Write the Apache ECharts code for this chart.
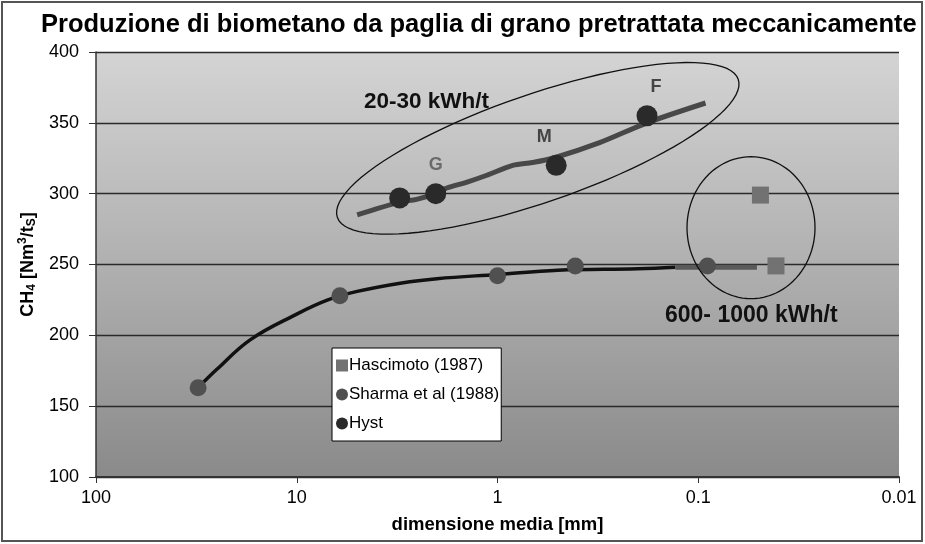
<!DOCTYPE html>
<html>
<head>
<meta charset="utf-8">
<script src="https://cdn.jsdelivr.net/npm/echarts@6/dist/echarts.min.js"></script>
<style>
  html, body { margin: 0; padding: 0; background: #fff; }
  #chart { width: 925px; height: 544px; }
</style>
</head>
<body>
<div id="chart"></div>
<script>
// tick labels of the log x axis (inverted: 100 on the left)
const xTicks = [100, 10, 1, 0.1, 0.01];
const yTicks = [100, 150, 200, 250, 300, 350, 400];

// measured points
const hascimotoX = [0.049, 0.041];
const hascimotoY = [299, 249];
const sharmaX = [31, 6.1, 1.0, 0.41, 0.09];
const sharmaY = [163, 228, 242, 249, 249];
const hystX = [3.07, 2.03, 0.51, 0.18];
const hystY = [297, 300, 320, 355];
const hystTags = ['', 'G', 'M', 'F'];

// trend lines
const hystFitX = [5.0, 3.07, 2.53, 2.03, 1.79, 1.43, 1.13, 0.84, 0.67, 0.53, 0.31, 0.18, 0.092];
const hystFitY = [285, 294, 296, 300, 304, 308, 313, 320, 322, 325, 336, 350, 364];
const sharmaFitX = [31, 25, 17, 10, 7, 5, 3, 2, 1, 0.5, 0.2, 0.13];
const sharmaFitY = [163, 176, 197, 215, 225, 231, 237, 240, 243, 246, 247, 248];
const tailFitX = [0.13, 0.09, 0.051];
const tailFitY = [248, 248, 248];

const zip = (xs, ys) => xs.map((x, i) => [x, ys[i]]);
const FONT = 'Liberation Sans, Arial, sans-serif';

const chart = echarts.init(document.getElementById('chart'));

const option = {
    backgroundColor: '#fff',
    animation: false,
    textStyle: { fontFamily: FONT },
    title: {
        text: 'Produzione di biometano da paglia di grano pretrattata meccanicamente',
        left: 36,
        top: 7,
        textStyle: { fontSize: 25.5, fontWeight: 'bold', color: '#000' }
    },
    grid: {
        left: 96, right: 26, top: 52, bottom: 67,
        show: true,
        borderWidth: 0,
        backgroundColor: new echarts.graphic.LinearGradient(0, 0, 0, 1, [
            { offset: 0, color: '#d4d4d4' },
            { offset: 0.5, color: '#b0b0b0' },
            { offset: 1, color: '#8a8a8a' }
        ])
    },
    legend: {
        orient: 'vertical',
        left: 332,
        top: 348,
        data: ['Hascimoto (1987)', 'Sharma et al (1988)', 'Hyst'],
        backgroundColor: '#fff',
        borderColor: '#000',
        borderWidth: 1,
        borderRadius: 0,
        padding: [9, 2, 9, 4],
        itemGap: 12,
        itemWidth: 12,
        itemHeight: 12,
        textStyle: { fontSize: 17, color: '#000', padding: [0, 0, 0, -4] }
    },
    xAxis: {
        type: 'log',
        logBase: 10,
        inverse: true,
        min: 0.01,
        max: 100,
        name: 'dimensione media [mm]',
        nameLocation: 'middle',
        nameGap: 38,
        nameTextStyle: { fontSize: 18.5, fontWeight: 'bold', color: '#000' },
        axisLine: { onZero: false, lineStyle: { color: '#333', width: 2 } },
        axisTick: { show: true, length: 6, lineStyle: { color: '#333' } },
        minorTick: { show: false },
        splitLine: { show: false },
        axisLabel: {
            fontSize: 18,
            color: '#000',
            margin: 12,
            formatter: (v) => {
                const t = xTicks.find(k => Math.abs(Math.log10(k) - Math.log10(v)) < 1e-6);
                return t === undefined ? '' : String(t);
            }
        }
    },
    yAxis: {
        type: 'value',
        min: yTicks[0],
        max: yTicks[yTicks.length - 1],
        interval: 50,
        name: '{b|CH}{s|4}{b| [Nm}{p|3}{b|/t}{s|S}{b|]}',
        nameLocation: 'middle',
        nameGap: 55,
        nameRotate: 90,
        nameTextStyle: {
            rich: {
                b: { fontSize: 18, fontWeight: 'bold', color: '#000' },
                s: { fontSize: 12, fontWeight: 'bold', color: '#000', padding: [9, 0, 0, 0] },
                p: { fontSize: 12, fontWeight: 'bold', color: '#000', padding: [0, 0, 9, 0] }
            }
        },
        axisLine: { show: true, lineStyle: { color: '#333', width: 1.5 } },
        axisTick: { show: true, length: 7, lineStyle: { color: '#333' } },
        splitLine: { lineStyle: { color: '#2a2a2a', width: 1.3 } },
        axisLabel: { fontSize: 18, color: '#000', margin: 17 }
    },
    series: [
        {
            name: 'sharma fit',
            type: 'line',
            data: zip(sharmaFitX, sharmaFitY),
            smooth: 0.4,
            showSymbol: false,
            silent: true,
            lineStyle: { color: '#111', width: 3.5 },
            z: 2
        },
        {
            name: 'tail fit',
            type: 'line',
            data: zip(tailFitX, tailFitY),
            showSymbol: false,
            silent: true,
            lineStyle: { color: '#5a5a5a', width: 5 },
            z: 2
        },
        {
            name: 'hyst fit',
            type: 'line',
            data: zip(hystFitX, hystFitY),
            smooth: 0.3,
            showSymbol: false,
            silent: true,
            lineStyle: { color: '#484848', width: 5 },
            z: 2
        },
        {
            name: 'Hascimoto (1987)',
            type: 'scatter',
            symbol: 'rect',
            symbolSize: 17,
            data: zip(hascimotoX, hascimotoY),
            itemStyle: { color: '#727272', opacity: 1 },
            z: 3
        },
        {
            name: 'Sharma et al (1988)',
            type: 'scatter',
            symbol: 'circle',
            symbolSize: 17,
            data: zip(sharmaX, sharmaY),
            itemStyle: { color: '#505050', opacity: 1 },
            z: 3
        },
        {
            name: 'Hyst',
            type: 'scatter',
            symbol: 'circle',
            symbolSize: 21,
            data: hystX.map((x, i) => ({
                value: [x, hystY[i]],
                label: {
                    show: hystTags[i] !== '',
                    formatter: hystTags[i],
                    position: 'top',
                    distance: 9,
                    offset: i === 2 ? [-12, 0] : (i === 3 ? [9, 0] : [0, 0]),
                    fontSize: 18,
                    fontWeight: 'bold',
                    color: i === 1 ? '#6a6a6a' : '#444'
                }
            })),
            itemStyle: { color: '#2a2a2a', opacity: 1 },
            z: 4
        }
    ]
};

chart.setOption(option);

// annotations: ellipses and energy notes, placed from data coordinates
function ellipsePoints(cx, cy, a, b, rot) {
    const pts = [];
    for (let k = 0; k < 96; k++) {
        const t = (k / 96) * Math.PI * 2;
        const ca = Math.cos(t), sa = Math.sin(t);
        pts.push([
            cx + a * ca * Math.cos(rot) - b * sa * Math.sin(rot),
            cy + a * ca * Math.sin(rot) + b * sa * Math.cos(rot)
        ]);
    }
    return pts;
}

const c1 = chart.convertToPixel({ gridIndex: 0 }, [0.63, 332]);
const c2 = chart.convertToPixel({ gridIndex: 0 }, [0.0546, 276]);

chart.setOption({
    graphic: [
        {
            type: 'rect',
            shape: { x: 2, y: 2, width: 920, height: 539 },
            style: { fill: 'none', stroke: '#555', lineWidth: 2 },
            z: 100
        },
        {
            type: 'polygon',
            shape: { points: ellipsePoints(c1[0], c1[1], 212, 54, -19 * Math.PI / 180) },
            style: { fill: 'none', stroke: '#111', lineWidth: 1.3 },
            z: 50
        },
        {
            type: 'polygon',
            shape: { points: ellipsePoints(c2[0], c2[1], 64, 71, 0) },
            style: { fill: 'none', stroke: '#111', lineWidth: 1.3 },
            z: 50
        },
        {
            type: 'text',
            x: 364,
            y: 102,
            style: { text: '20-30 kWh/t', fontSize: 22.5, fontWeight: 'bold', fill: '#111',
                     fontFamily: FONT, verticalAlign: 'middle' },
            z: 50
        },
        {
            type: 'text',
            x: 665,
            y: 316,
            style: { text: '600- 1000 kWh/t', fontSize: 23, fontWeight: 'bold', fill: '#111',
                     fontFamily: FONT, verticalAlign: 'middle' },
            z: 50
        }
    ]
});
</script>
</body>
</html>
